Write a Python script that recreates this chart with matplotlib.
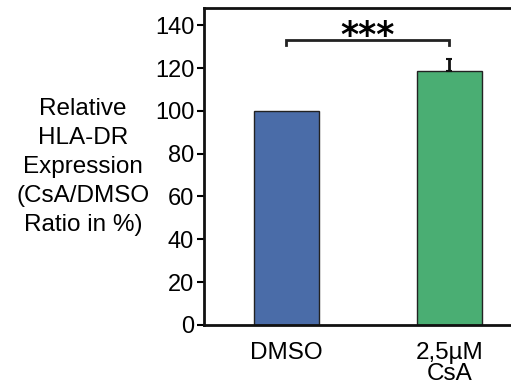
import numpy as np
import matplotlib.pyplot as plt

plt.rcParams['font.family'] = ['Liberation Sans', 'DejaVu Sans']

groups = ['DMSO', '2,5\u00b5M\nCsA']
values = [100, 118.8]
errors = [0, 5.5]
colors = ['#4a6ca8', '#4aae73']
sig_y = 133.3
sig_label = '***'

fig = plt.figure(figsize=(5.11, 3.85), dpi=100)
ax = fig.add_axes([0.399, 0.156, 0.62, 0.823])

x = np.arange(len(values))
ax.bar(x, values, width=0.40, color=colors, edgecolor='#222222', linewidth=1.0, zorder=2)
ax.errorbar(x[1], values[1], yerr=[[0], [errors[1]]], fmt='none', ecolor='#111111',
            elinewidth=2, capsize=2, capthick=1.5, zorder=3)

# significance bracket
ax.plot([x[0], x[0], x[1], x[1]], [sig_y - 2.5, sig_y, sig_y, sig_y - 2.5], color='#222222', lw=2,
        solid_joinstyle='miter', clip_on=False)
ax.text((x[0] + x[1]) / 2, sig_y - 6.5, sig_label, ha='center', va='bottom', fontsize=25,
        fontweight='bold', family='DejaVu Sans')

ax.set_xlim(-0.506, 1.437)
ax.set_ylim(0, 148)
ax.set_yticks(np.arange(0, 141, 20))
ax.set_xticks(x)
ax.set_xticklabels(groups, fontsize=17.5, linespacing=0.95)
ax.tick_params(axis='x', length=0, pad=12)
ax.tick_params(axis='y', labelsize=17, length=5, width=1.5, direction='out', pad=2)
for s in ['left', 'bottom', 'top']:
    ax.spines[s].set_linewidth(2)
    ax.spines[s].set_color('#111111')
ax.spines['right'].set_visible(False)

fig.text(0.162, 0.566, 'Relative\nHLA-DR\nExpression\n(CsA/DMSO\nRatio in %)', ha='center',
         va='center', fontsize=17.5, linespacing=1.4)

fig.savefig('out.png', dpi=100)
